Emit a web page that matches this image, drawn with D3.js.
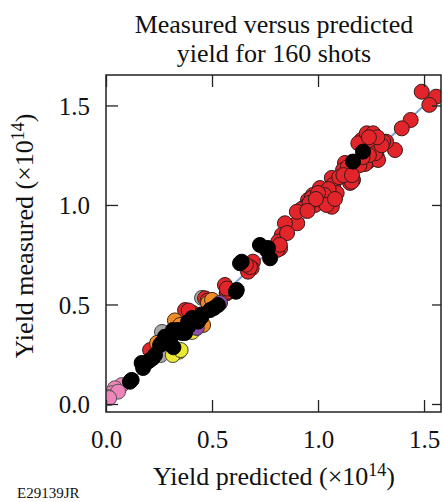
<!DOCTYPE html>
<html><head><meta charset="utf-8">
<script src="https://cdn.jsdelivr.net/npm/d3@7"></script>
<style>body{margin:0;background:#fff}svg{display:block}text{font-family:"Liberation Serif","Times New Roman",serif;fill:#111}</style>
</head><body>
<script>
const xTicks = [0.0, 0.5, 1.0, 1.5];
const yTicks = [0.0, 0.5, 1.0, 1.5];
const titleLines = ["Measured versus predicted", "yield for 160 shots"];

// [predicted, measured] (x10^14)
const redShots = [[1.489,1.569],[1.557,1.544],[1.525,1.503],[1.437,1.427],[1.395,1.385],[1.363,1.276],[1.321,1.318],
[1.230,1.352],[1.259,1.337],[1.206,1.327],[1.283,1.293],[1.236,1.302],[1.259,1.268],[1.236,1.218],[1.277,1.243],[1.283,1.226],
[1.127,1.211],[1.118,1.176],[1.151,1.167],[1.165,1.126],[1.151,1.111],[1.065,1.136],[1.071,1.101],
[1.009,1.085],[1.041,1.067],[1.071,1.050],[1.088,1.060],[0.976,1.050],[0.953,1.025],[0.986,1.000],[0.939,0.991],[1.057,1.025],[1.065,0.991],[1.017,1.025],
[0.923,0.980],[0.902,0.908],[0.844,0.908],[0.829,0.849],[0.813,0.816],[0.821,0.782],
[0.693,0.715],[0.687,0.682],[0.670,0.665],[0.561,0.598],[0.569,0.556],[0.467,0.531],[0.373,0.472],[0.410,0.457],[0.208,0.271],
[1.277,1.286],[1.307,1.318],[1.222,1.206],[1.159,1.117],[0.970,1.035],[0.900,0.966],[0.807,0.774],[0.854,0.859],[0.679,0.688],[0.571,0.563],
[1.245,1.32],[1.22,1.29],[1.26,1.31],[1.25,1.28],[1.27,1.26],[1.24,1.25],[1.195,1.20],[1.14,1.19],[1.10,1.14],[1.05,1.08],[1.03,1.05],
[1.00,1.06],[0.96,1.01],[1.04,1.00],[1.08,1.03],[1.12,1.15],[1.16,1.15],[1.30,1.30],[1.21,1.24],[0.99,1.03],[0.95,0.97],[1.19,1.31],
[1.23,1.36],[1.26,1.36],[1.28,1.34],[1.24,1.34],[0.66,0.70],[0.57,0.58],[0.48,0.52],[0.39,0.47],[0.82,0.80]];
const orangeShots = [[0.481,0.508],[0.500,0.523],[0.458,0.397],[0.340,0.407],[0.325,0.420],[0.349,0.397],[0.241,0.307],[0.395,0.412]];
const grayShots = [[0.269,0.347],[0.255,0.256],[0.453,0.533],[0.264,0.362],[0.258,0.246]];
const yellowShots = [[0.345,0.263],[0.315,0.246],[0.352,0.271],[0.406,0.362]];
const purpleShots = [[0.538,0.508],[0.428,0.382]];
const pinkShots = [[0.074,0.095],[0.042,0.079],[0.027,0.054],[0.057,0.062],[0.009,0.035],[0.015,0.030]];
const blackShots = [[1.212,1.268],[1.165,1.218],[0.726,0.799],[0.758,0.774],[0.774,0.732],[0.640,0.715],[0.613,0.564],[0.491,0.472],
[0.451,0.439],[0.434,0.414],[0.387,0.388],[0.373,0.357],[0.278,0.338],[0.302,0.307],[0.302,0.322],[0.278,0.307],[0.198,0.213],
[0.168,0.206],[0.175,0.181],[0.121,0.121],[0.632,0.707],[0.764,0.784],[0.617,0.573],[0.443,0.432],[0.357,0.357],[0.286,0.332],
[0.263,0.307],[0.208,0.221],[0.113,0.112],[0.316,0.372],[0.340,0.372],[0.406,0.432],[0.231,0.246],[0.528,0.497],[0.509,0.482],
[0.387,0.412],[0.255,0.296],[0.45,0.45],[0.33,0.36],[0.22,0.23],[0.318,0.285]];

const groups = [
  {data: grayShots, fill: "#a6a6a6", stroke: "#444"},
  {data: redShots, fill: "#e2242b", stroke: "#3a1a1a"},
  {data: orangeShots, fill: "#f28a26", stroke: "#3a2a1a"},
  {data: yellowShots, fill: "#ece832", stroke: "#444"},
  {data: purpleShots, fill: "#8e4ea8", stroke: "#333"},
  {data: pinkShots, fill: "#ee84b9", stroke: "#555"},
  {data: blackShots, fill: "#000", stroke: "#000"}
];

const W = 443, H = 502;
const L = 106, R = 441, T = 75, B = 412;
const x = d3.scaleLinear().domain([0, 1.58]).range([L, R]);
const y = d3.scaleLinear().domain([-0.0402, 1.653]).range([B, T]);

const svg = d3.select("body").append("svg").attr("width", W).attr("height", H);
svg.append("defs").append("clipPath").attr("id","clip").append("rect")
  .attr("x", L).attr("y", T).attr("width", R - L).attr("height", B - T);

const plot = svg.append("g").attr("clip-path", "url(#clip)");
plot.append("line").attr("x1", x(0)).attr("y1", y(0)).attr("x2", x(1.6)).attr("y2", y(1.6))
  .attr("stroke", "#7aa3d8").attr("stroke-width", 2);

groups.forEach(g => {
  plot.append("g").selectAll("circle").data(g.data).join("circle")
    .attr("cx", d => x(d[0])).attr("cy", d => y(d[1])).attr("r", 7.5)
    .attr("fill", g.fill).attr("stroke", g.stroke).attr("stroke-width", 1);
});

// axes (ticks inward on all four sides)
const fmt = d3.format(".1f");
const axB = svg.append("g").attr("transform", `translate(0,${B})`)
  .call(d3.axisBottom(x).tickValues(xTicks).tickSize(-12).tickPadding(18).tickFormat(fmt));
const axT = svg.append("g").attr("transform", `translate(0,${T})`)
  .call(d3.axisTop(x).tickValues(xTicks).tickSize(-12).tickFormat(""));
const axL = svg.append("g").attr("transform", `translate(${L},0)`)
  .call(d3.axisLeft(y).tickValues(yTicks).tickSize(-12).tickPadding(16).tickFormat(fmt));
const axR = svg.append("g").attr("transform", `translate(${R},0)`)
  .call(d3.axisRight(y).tickValues(yTicks).tickSize(-9).tickFormat(""));
[axB, axT, axL, axR].forEach(a => {
  a.select(".domain").remove();
  a.selectAll(".tick line").attr("stroke", "#222").attr("stroke-width", 1.3);
  a.selectAll("text").style("font-family", '"Liberation Serif",serif').style("font-size", "25px").attr("fill", "#111");
});
axL.selectAll("text").attr("dy", "0.36em");

svg.append("rect").attr("x", L).attr("y", T).attr("width", R - L).attr("height", B - T)
  .attr("fill", "none").attr("stroke", "#222").attr("stroke-width", 1.5);

// title
svg.append("text").attr("x", 274).attr("y", 33).attr("text-anchor", "middle")
  .style("font-size", "26px").text(titleLines[0]);
svg.append("text").attr("x", 274).attr("y", 62).attr("text-anchor", "middle")
  .style("font-size", "26px").text(titleLines[1]);

// x label
const xl = svg.append("text").attr("x", 274).attr("y", 485).attr("text-anchor", "middle").style("font-size", "26px");
xl.append("tspan").text("Yield predicted (\u00d710");
xl.append("tspan").attr("dy", "-9").style("font-size", "18px").text("14");
xl.append("tspan").attr("dy", "9").text(")");

// y label
const yl = svg.append("text").attr("transform", "translate(33,236) rotate(-90)").attr("text-anchor", "middle").style("font-size", "26px");
yl.append("tspan").text("Yield measured (\u00d710");
yl.append("tspan").attr("dy", "-9").style("font-size", "18px").text("14");
yl.append("tspan").attr("dy", "9").text(")");

svg.append("text").attr("x", 17).attr("y", 498).style("font-size", "15px").text("E29139JR");
</script>
</body></html>
